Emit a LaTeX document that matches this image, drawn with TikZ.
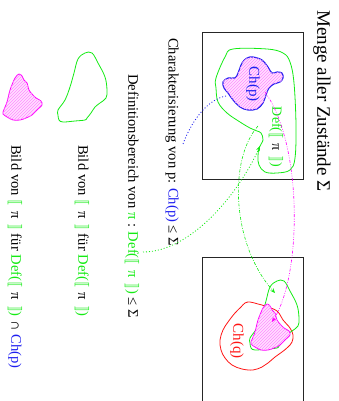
\documentclass[tikz,border=0pt]{standalone}
\usepackage{fontspec}
\setmainfont{Liberation Serif}
\usepackage{stmaryrd}
\usetikzlibrary{patterns,arrows.meta}
\definecolor{gr}{RGB}{20,235,20}
\definecolor{bl}{RGB}{30,30,240}
\definecolor{mg}{RGB}{255,0,255}
\definecolor{rd}{RGB}{255,20,20}
\newcommand{\LB}{\textcolor{gr}{$\llbracket$}}
\newcommand{\RB}{\textcolor{gr}{$\rrbracket$}}
\newcommand{\sem}[1]{\LB\hspace{0.4em}#1\hspace{0.4em}\RB}
\tikzset{
  lbl/.style={rotate=-90, anchor=west, inner sep=0pt, font=\fontsize{14.6}{17}\selectfont},
  blob/.style={rotate=-90, inner sep=0pt, font=\fontsize{15}{18}\selectfont},
  frame/.style={draw=black!85, line width=0.9pt},
  hatch/.style={fill=mg!12, postaction={pattern=north east lines, pattern color=mg!45}},
  tip/.style={-{Stealth[length=5pt,width=4pt]}},
}
\begin{document}
\begin{tikzpicture}[x=1pt,y=-1pt]
\useasboundingbox (0,0) rectangle (338,401);
% title
\node[rotate=-90, anchor=west, inner sep=0pt, font=\fontsize{19}{22}\selectfont] (title) at (322,10) {Menge aller Zustände Σ};
% frames
\draw[frame] (202,32) rectangle (303,179);
\draw[frame] (202,257) rectangle (303,412);
% top box: Def blob
\draw[gr, line width=0.8pt] plot[smooth cycle, tension=0.6] coordinates {
 (216,78) (225,57) (233,49) (267,49) (283,53) (290,62) (294,83) (296,125) (295,158)
 (290,170) (277,173) (265,172) (259,165) (258,157) (259,148) (263,140) (261,133)
 (257,131) (250,128) (240,122) (227,113) (218,102) (216,88)};
% Ch(p) blob
\draw[bl, line width=1.1pt, hatch] plot[smooth cycle, tension=0.6] coordinates {
 (223,82) (228,78) (235,78) (238,73) (242,63) (247,58) (253,57) (262,60) (268,67)
 (272,73) (277,72) (282,73) (283,78) (280,82) (274,84) (269,88) (266,95) (263,103)
 (257,109) (248,110) (240,107) (233,100) (228,93) (224,88)};
\node[blob, bl] (chp) at (253,84) {Ch(p)};
\node[blob, gr, font=\fontsize{14}{17}\selectfont] (defp) at (276,137) {Def(\sem{\textcolor{black}{π}})};
% bottom box: Ch(q)
\draw[rd, line width=0.8pt] plot[smooth cycle, tension=0.6] coordinates {
 (245,303) (250,302) (258,304) (265,306) (277,311) (283,320) (290,328) (293,335)
 (292,342) (288,347) (282,352) (275,357) (268,363) (262,367) (253,370) (242,369)
 (232,365) (225,358) (221,350) (220,340) (223,330) (228,322) (235,313) (241,307)};
\node[blob, rd] (chq) at (237,341) {Ch(q)};
% image of Def in bottom box
\begin{scope}[shift={(192,228)}]
\draw[gr, line width=0.8pt] plot[smooth cycle, tension=0.6] coordinates {
 (58,110) (65,100) (70,87) (74,73) (78,59) (85,53) (92,53) (98,63) (105,77) (107,90)
 (106,98) (100,103) (95,107) (91,113) (87,118) (85,120) (75,121) (63,122) (59,120) (58,115)};
\end{scope}
\begin{scope}[shift={(248,230)}]
\draw[mg, line width=0.8pt, hatch] plot[smooth cycle, tension=0.5] coordinates {
 (3,112) (7,102) (10,90) (15,78) (19,74) (22,76) (24,80) (27,83) (29,90) (32,94)
 (36,98) (41,101) (42,105) (37,110) (32,115) (26,118) (20,120) (13,120) (7,117) (3,114)};
\end{scope}
% legend shapes
\draw[gr, line width=0.8pt] plot[smooth cycle, tension=0.6] coordinates {
 (58,110) (65,100) (70,87) (74,73) (78,59) (85,53) (92,53) (98,63) (105,77) (107,90)
 (106,98) (100,103) (95,107) (91,113) (87,118) (85,120) (75,121) (63,122) (59,120) (58,115)};
\draw[mg, line width=0.8pt, hatch] plot[smooth cycle, tension=0.5] coordinates {
 (3,112) (7,102) (10,90) (15,78) (19,74) (22,76) (24,80) (27,83) (29,90) (32,94)
 (36,98) (41,101) (42,105) (37,110) (32,115) (26,118) (20,120) (13,120) (7,117) (3,114)};
% labels
\node[lbl] (charlbl) at (172,38) {Charakterisierung von p: \textcolor{bl}{Ch(p)} ≤ Σ};
\node[lbl] (deflbl) at (132,74) {Definitionsbereich von \textcolor{gr}{π} : \textcolor{gr}{Def(\sem{π})} ≤ Σ};
\node[lbl] (bild1) at (82,145) {Bild von \sem{π} für \textcolor{gr}{Def(\sem{\textcolor{black}{π}})}};
\node[lbl] (bild2) at (15,145) {Bild von \sem{π} für \textcolor{gr}{Def(\sem{\textcolor{black}{π}})} ∩ \textcolor{bl}{Ch(p)}};
% connector endpoints
\coordinate (bS) at (226,96);
\coordinate (bE) at (183,144);
\coordinate (gS) at (143,252);
\coordinate (gE) at (260,146);
\coordinate (dS) at (258,126);
\coordinate (dE) at (275,293);
\coordinate (mS) at (265,92);
\coordinate (mE) at (272,322);
% connectors
\draw[bl, line width=0.8pt, dash pattern=on 1pt off 2pt] (bS) .. controls (205,100) and (190,125) .. (bE);
\draw[gr, line width=0.8pt, dash pattern=on 1pt off 2pt, tip] (gS) .. controls (190,252) and (238,195) .. (gE);
\draw[gr, line width=0.6pt, dash pattern=on 3pt off 1.5pt on 0.8pt off 1.5pt, tip] (dS) .. controls (228,160) and (232,245) .. (dE);
\draw[mg, line width=0.6pt, dash pattern=on 3pt off 1.5pt on 0.8pt off 1.5pt on 0.8pt off 1.5pt, tip] (mS) .. controls (303,145) and (302,275) .. (mE);
\end{tikzpicture}
\end{document}
